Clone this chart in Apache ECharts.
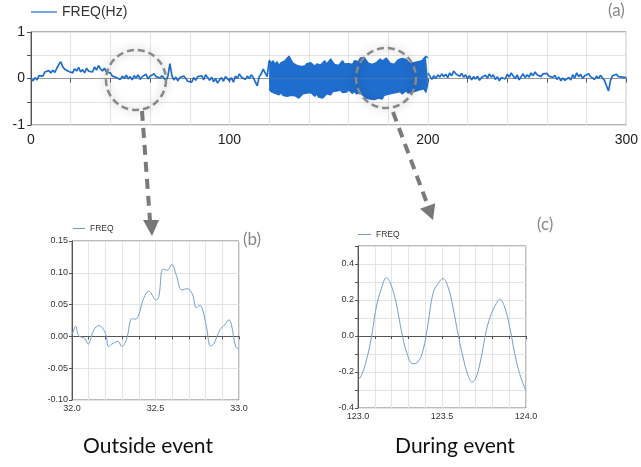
<!DOCTYPE html>
<html>
<head>
<meta charset="utf-8">
<script src="https://cdn.jsdelivr.net/npm/echarts@6/dist/echarts.min.js"></script>
<style>
  html, body { margin: 0; padding: 0; background: #fff; }
  #main { width: 641px; height: 467px; }
</style>
</head>
<body>
<div id="main"></div>
<script>
// (a) full record, sampled every 1 s
// t = 0 .. 120
const noiseStart = [
  0.00, -0.05, 0.02, -0.03, 0.06, 0.10, 0.05, 0.14, 0.10, 0.17,
  0.12, 0.18, 0.13, 0.22, 0.30, 0.36, 0.25, 0.20, 0.24, 0.15,
  0.18, 0.12, 0.21, 0.16, 0.24, 0.14, 0.19, 0.12, 0.22, 0.16,
  0.20, 0.14, 0.25, 0.18, 0.28, 0.21, 0.16, 0.22, 0.14, 0.10,
  0.12, 0.05, 0.08, 0.02, 0.06, -0.02, 0.05, 0.00, 0.07, -0.01,
  0.04, -0.03, 0.06, 0.01, 0.08, -0.02, 0.04, 0.00, 0.09, -0.01,
  0.05, 0.02, 0.10, 0.04, 0.08, 0.01, 0.06, 0.03, -0.04, 0.05,
  0.32, 0.06, -0.03, 0.03, -0.05, 0.02, -0.02, 0.05, 0.00, -0.06,
  -0.02, -0.08, 0.02, -0.04, 0.04, 0.00, 0.06, -0.03, 0.08, 0.02,
  -0.04, 0.03, -0.07, 0.00, -0.10, -0.03, 0.02, -0.06, 0.04, 0.00,
  -0.05, 0.02, -0.08, 0.05, 0.00, 0.10, 0.03, 0.06, -0.02, 0.05,
  0.00, 0.08, 0.02, 0.06, -0.16, 0.04, 0.10, 0.20, 0.12, 0.04,
  0.38
];
// t = 120 .. 200, envelope of the fast oscillation
const bandHigh = [
  0.40, 0.33, 0.38, 0.30, 0.36, 0.28, 0.34, 0.30, 0.38, 0.42,
  0.48, 0.40, 0.33, 0.36, 0.28, 0.31, 0.26, 0.30, 0.27, 0.32,
  0.28, 0.34, 0.30, 0.26, 0.31, 0.35, 0.29, 0.33, 0.38, 0.31,
  0.36, 0.42, 0.35, 0.30, 0.34, 0.28, 0.33, 0.38, 0.31, 0.35,
  0.32, 0.36, 0.30, 0.38, 0.42, 0.36, 0.44, 0.40, 0.45, 0.38,
  0.33, 0.36, 0.30, 0.28, 0.34, 0.38, 0.42, 0.37, 0.40, 0.44,
  0.38, 0.33, 0.36, 0.30, 0.35, 0.40, 0.37, 0.43, 0.46, 0.41,
  0.38, 0.32, 0.28, 0.34, 0.30, 0.36, 0.32, 0.38, 0.42, 0.48,
  0.44
];
const bandLow = [
  -0.22, -0.28, -0.25, -0.32, -0.28, -0.35, -0.30, -0.36, -0.33, -0.38,
  -0.34, -0.36, -0.40, -0.37, -0.35, -0.42, -0.38, -0.33, -0.36, -0.31,
  -0.35, -0.30, -0.34, -0.38, -0.33, -0.40, -0.36, -0.42, -0.38, -0.33,
  -0.30, -0.35, -0.28, -0.32, -0.27, -0.31, -0.25, -0.30, -0.26, -0.29,
  -0.24, -0.28, -0.32, -0.27, -0.33, -0.36, -0.30, -0.35, -0.39, -0.42,
  -0.38, -0.44, -0.40, -0.45, -0.48, -0.42, -0.38, -0.44, -0.36, -0.40,
  -0.34, -0.38, -0.32, -0.36, -0.30, -0.34, -0.28, -0.33, -0.30, -0.26,
  -0.31, -0.35, -0.29, -0.33, -0.27, -0.30, -0.24, -0.28, -0.22, -0.30,
  -0.10
];
// t = 200 .. 300
const noiseEnd = [
  0.12, 0.05, -0.02, 0.06, 0.00, 0.08, 0.03, 0.10, 0.04, 0.09,
  0.02, 0.12, 0.06, 0.16, 0.10, 0.14, 0.05, 0.11, 0.03, 0.08,
  0.00, 0.06, -0.03, 0.04, -0.01, 0.05, -0.04, 0.02, -0.02, 0.07,
  0.01, 0.10, 0.03, 0.08, -0.02, 0.04, -0.05, 0.02, 0.06, -0.01,
  0.09, 0.03, 0.12, 0.05, 0.00, 0.08, -0.03, 0.04, 0.10, 0.02,
  0.08, 0.03, 0.12, 0.06, 0.14, 0.08, 0.12, 0.04, 0.10, 0.06,
  0.11, 0.05, 0.09, 0.02, 0.07, -0.02, 0.03, -0.05, 0.01, -0.04,
  -0.06, 0.02, -0.03, 0.08, 0.01, 0.12, 0.04, 0.09, 0.00, 0.06,
  0.02, 0.10, 0.04, 0.08, -0.02, 0.05, 0.00, 0.07, 0.01, -0.04,
  -0.08, -0.27, -0.05, 0.06, 0.02, 0.09, 0.04, 0.08, 0.03, 0.05,
  0.02
];

// (b) zoom 32..33 s, outside event
const zoomBTime = [
  32.00, 32.022, 32.04, 32.076, 32.098, 32.11, 32.13, 32.16, 32.20, 32.22,
  32.245, 32.277, 32.297, 32.325, 32.36, 32.38, 32.40, 32.425, 32.46, 32.505,
  32.52, 32.545, 32.57, 32.597, 32.625, 32.657, 32.69, 32.72, 32.745, 32.765,
  32.78, 32.805, 32.83, 32.85, 32.885, 32.914, 32.94, 32.955, 32.98, 33.00
];
const zoomBFreq = [
  0.002, 0.016, 0.001, -0.003, -0.012, -0.006, 0.010, 0.017, 0.005, -0.016,
  -0.011, -0.008, -0.016, -0.006, 0.028, 0.027, 0.034, 0.057, 0.071, 0.057,
  0.063, 0.106, 0.104, 0.113, 0.096, 0.073, 0.075, 0.067, 0.045, 0.049,
  0.044, 0.015, -0.015, -0.011, 0.010, 0.018, 0.026, 0.018, -0.016, -0.020
];

// (c) zoom 123..124 s, during event
const zoomCTime = [
  123.00, 123.02, 123.05, 123.08, 123.109, 123.139, 123.169, 123.198, 123.228, 123.258,
  123.292, 123.327, 123.357, 123.387, 123.417, 123.446, 123.476, 123.506, 123.536, 123.565,
  123.595, 123.625, 123.655, 123.68, 123.704, 123.734, 123.764, 123.794, 123.823, 123.843,
  123.873, 123.903, 123.933, 123.962, 124.00
];
const zoomCFreq = [
  -0.243, -0.219, -0.135, -0.006, 0.161, 0.263, 0.324, 0.281, 0.180, 0.031,
  -0.098, -0.154, -0.144, -0.080, 0.069, 0.235, 0.291, 0.319, 0.272, 0.161,
  0.013, -0.117, -0.219, -0.256, -0.228, -0.117, 0.031, 0.124, 0.180, 0.204,
  0.161, 0.050, -0.098, -0.209, -0.306
];

const topBlue = '#1f6dcc';
const thinBlue = '#739fcc';
const labelFont = 'Liberation Sans, Arial, sans-serif';

const fromStart = (arr, t0) => arr.map((v, i) => [t0 + i, v]);
const pairs = (ts, vs) => ts.map((t, i) => [t, vs[i]]);

// axis helper
function axis(gridIndex, min, max, interval, fontSize, fmt, extra) {
  return Object.assign({
    type: 'value', gridIndex, min, max, interval,
    axisLine: { show: true, lineStyle: { color: '#555', width: 1 } },
    axisTick: { show: true, length: 3, lineStyle: { color: '#555' } },
    splitLine: { show: true, lineStyle: { color: '#e4e4e4', width: 1 } },
    axisLabel: { color: '#333', fontSize, fontFamily: labelFont, formatter: fmt, margin: 4 },
    showMinLabel: true, showMaxLabel: true
  }, extra || {});
}

const chart = echarts.init(document.getElementById('main'));

chart.setOption({
  animation: false,
  backgroundColor: '#fff',
  grid: [
    { left: 31, right: 11, top: 32, bottom: 342, show: true, borderColor: '#666', borderWidth: 1 },
    { left: 72, right: 402, top: 241, bottom: 67, show: true, borderColor: '#777', borderWidth: 1 },
    { left: 358, right: 115, top: 246, bottom: 59, show: true, borderColor: '#777', borderWidth: 1 }
  ],
  legend: [
    { data: ['FREQ(Hz)'], left: 31, top: 5, padding: 0, icon: 'rect', itemWidth: 26, itemHeight: 1.2,
      textStyle: { fontSize: 14, color: '#333', fontFamily: labelFont } },
    { data: ['FREQ'], left: 73, top: 224, padding: 0, icon: 'rect', itemWidth: 12, itemHeight: 1,
      textStyle: { fontSize: 8.5, color: '#333', fontFamily: labelFont } },
    { data: ['FREQ '], left: 358, top: 230, padding: 0, icon: 'rect', itemWidth: 13, itemHeight: 1,
      textStyle: { fontSize: 8.5, color: '#333', fontFamily: labelFont } }
  ],
  xAxis: [
    axis(0, 0, 300, 20, 14, v => (v % 100 === 0 ? String(v) : ''),
      { axisLine: { show: true, lineStyle: { color: '#999' } },
        axisTick: { show: true, length: 4, lineStyle: { color: '#555' } },
        axisLabel: { color: '#222', fontSize: 14, fontFamily: labelFont, margin: 8,
          formatter: v => (v % 100 === 0 ? String(v) : '') } }),
    axis(1, 32, 33, 0.1, 9, v => (Math.round(v * 10) % 5 === 0 ? v.toFixed(1) : '')),
    axis(2, 123, 124, 0.1, 9, v => (Math.round(v * 10) % 5 === 0 ? v.toFixed(1) : ''))
  ],
  yAxis: [
    axis(0, -1, 1, 0.5, 14, v => (v % 1 === 0 ? String(v) : ''),
      { axisTick: { show: true, length: 4, lineStyle: { color: '#555' } },
        axisLabel: { color: '#222', fontSize: 14, fontFamily: labelFont, margin: 6,
          formatter: v => (v % 1 === 0 ? String(v) : '') } }),
    axis(1, -0.1, 0.15, 0.05, 9, v => v.toFixed(2)),
    axis(2, -0.4, 0.5, 0.1, 9, v => (Math.round(v * 10) % 2 === 0 ? v.toFixed(1) : ''))
  ],
  series: [
    { name: 'FREQ(Hz)', type: 'line', xAxisIndex: 0, yAxisIndex: 0, symbol: 'none',
      data: fromStart(noiseStart, 0), lineStyle: { color: topBlue, width: 1.7 }, itemStyle: { color: topBlue } },
    { name: 'FREQ(Hz)', type: 'line', xAxisIndex: 0, yAxisIndex: 0, symbol: 'none',
      data: fromStart(bandHigh, 120), lineStyle: { color: topBlue, width: 1.5 },
      areaStyle: { color: topBlue, opacity: 1 } },
    { name: 'FREQ(Hz)', type: 'line', xAxisIndex: 0, yAxisIndex: 0, symbol: 'none',
      data: fromStart(bandLow, 120), lineStyle: { color: topBlue, width: 1.5 },
      areaStyle: { color: topBlue, opacity: 1 } },
    { name: 'FREQ(Hz)', type: 'line', xAxisIndex: 0, yAxisIndex: 0, symbol: 'none',
      data: fromStart(noiseEnd, 200), lineStyle: { color: topBlue, width: 1.7 } },
    { name: 'FREQ', type: 'line', xAxisIndex: 1, yAxisIndex: 1, symbol: 'none', smooth: 0.4,
      data: pairs(zoomBTime, zoomBFreq), lineStyle: { color: thinBlue, width: 1 }, itemStyle: { color: thinBlue } },
    { name: 'FREQ ', type: 'line', xAxisIndex: 2, yAxisIndex: 2, symbol: 'none', smooth: 0.4,
      data: pairs(zoomCTime, zoomCFreq), lineStyle: { color: thinBlue, width: 1 }, itemStyle: { color: thinBlue } }
  ],
  graphic: [
    // magnifier circles
    { type: 'circle', z: 100, shape: { cx: 136, cy: 80, r: 30 },
      style: { fill: 'rgba(0,0,0,0)', stroke: '#888', lineWidth: 2.5, lineDash: [7, 4],
        shadowBlur: 8, shadowColor: 'rgba(0,0,0,0.35)' } },
    { type: 'circle', z: 100, shape: { cx: 386, cy: 78, r: 30 },
      style: { fill: 'rgba(0,0,0,0)', stroke: '#888', lineWidth: 2.5, lineDash: [7, 4],
        shadowBlur: 8, shadowColor: 'rgba(0,0,0,0.35)' } },
    // dashed arrows
    { type: 'line', z: 100, shape: { x1: 142, y1: 111, x2: 150, y2: 221 },
      style: { stroke: '#7a7a7a', lineWidth: 4, lineDash: [10, 7] } },
    { type: 'polygon', z: 100, shape: { points: [[143, 220], [159, 220], [152, 236]] },
      style: { fill: '#777' } },
    { type: 'line', z: 100, shape: { x1: 393, y1: 112, x2: 428, y2: 206 },
      style: { stroke: '#7a7a7a', lineWidth: 4, lineDash: [10, 7] } },
    { type: 'polygon', z: 100, shape: { points: [[420, 208.8], [435.2, 203.2], [433, 220]] },
      style: { fill: '#777' } },
    // panel tags
    { type: 'text', z: 100, left: 608, top: 2,
      style: { text: '(a)', fill: '#888', font: '17px Lato, sans-serif' } },
    { type: 'text', z: 100, left: 243, top: 231,
      style: { text: '(b)', fill: '#888', font: '17px Lato, sans-serif' } },
    { type: 'text', z: 100, left: 537, top: 216,
      style: { text: '(c)', fill: '#888', font: '17px Lato, sans-serif' } },
    // captions
    { type: 'text', z: 100, x: 148, y: 446,
      style: { text: 'Outside event', fill: '#111', font: '21px Lato, sans-serif', align: 'center', verticalAlign: 'middle' } },
    { type: 'text', z: 100, x: 455, y: 446,
      style: { text: 'During event', fill: '#111', font: '21px Lato, sans-serif', align: 'center', verticalAlign: 'middle' } }
  ]
});
</script>
</body>
</html>
